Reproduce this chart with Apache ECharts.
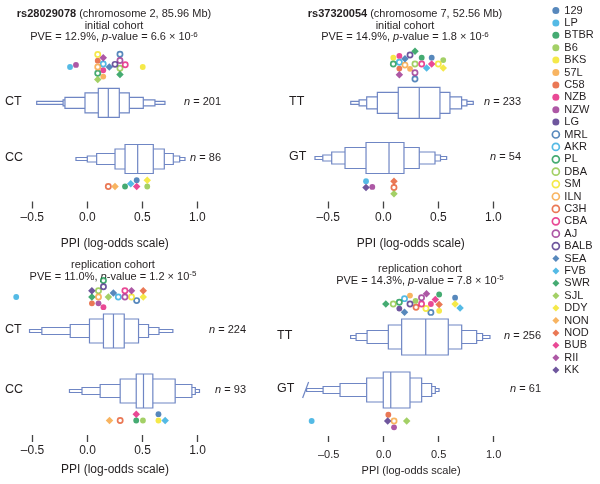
<!DOCTYPE html>
<html><head><meta charset="utf-8">
<script src="https://cdn.jsdelivr.net/npm/echarts@6/dist/echarts.min.js"></script>
<style>html,body{margin:0;padding:0;background:#fff}#c{width:600px;height:484px}</style>
</head><body><div id="c"></div>
<script>
// ---------------- DATA ----------------
const strains = ['129','LP','BTBR','B6','BKS','57L','C58','NZB','NZW','LG','MRL','AKR','PL','DBA','SM','ILN','C3H','CBA','AJ','BALB','SEA','FVB','SWR','SJL','DDY','NON','NOD','BUB','RII','KK'];
const colorCycle = ['#2d6aab','#29a9df','#17964f','#8cc440','#f2e41c','#f6a13a','#e5562b','#e41b7b','#992e8f','#4a2c85'];
const snpIds = ['rs28029078','rs37320054'];
const snpInfo = [' (chromosome 2, 85.96 Mb)',' (chromosome 7, 52.56 Mb)'];
const cohorts = ['initial cohort','initial cohort','replication cohort','replication cohort'];
const pveValues = ['12.9%','14.9%','11.0%','14.3%'];
const pMantissa = ['6.6','1.8','1.2','7.8'];
const pExponent = ['-6','-6','-5','-5'];
const genotypes = [['CT','CC'],['TT','GT'],['CT','CC'],['TT','GT']];
const groupN = [[201,86],[233,54],[224,93],[256,61]];
const xTicks = [-0.5,0,0.5,1.0];
const xTitle = 'PPI (log-odds scale)';

// letter values (inner -> outer) for each genotype box
const lvLower = [
  [[0.100,-0.021,-0.203,-0.220,-0.460],[0.343,0.252,0.085,0.000,-0.103]],
  [[0.136,-0.054,-0.151,-0.220,-0.296],[-0.157,-0.348,-0.469,-0.550,-0.621]],
  [[0.145,0.018,-0.157,-0.415,-0.527],[0.443,0.297,0.115,-0.050,-0.164]],
  [[0.164,0.043,-0.150,-0.250,-0.300],[-0.003,-0.154,-0.396,-0.550,-0.700]]
];
const lvUpper = [
  [[0.291,0.382,0.509,0.615,0.706],[0.600,0.700,0.782,0.840,0.888]],
  [[0.515,0.606,0.712,0.760,0.818],[0.188,0.327,0.470,0.520,0.576]],
  [[0.334,0.464,0.555,0.650,0.776],[0.594,0.797,0.949,0.980,1.018]],
  [[0.588,0.710,0.846,0.900,0.967],[0.240,0.346,0.437,0.470,0.504]]
];
const lvMedian = [[0.191,0.458],[0.327,0.052],[0.236,0.509],[0.383,0.065]];
const lowTailBroken = [[false,false],[false,false],[false,false],[false,true]];

// strain means per panel / genotype group: [strain, PPI]
const strainMeans = [
  [ // rs28029078 initial
    [['LP',-0.157],['NZW',-0.103],['ILN',0.095],['AKR',0.145],['C58',0.095],['PL',0.095],['NZB',0.145],['SM',0.095],['RII',0.145],['SJL',0.095],['57L',0.145],['SEA',0.200],['BALB',0.252],['DBA',0.297],['AJ',0.297],['CBA',0.345],['SWR',0.297],['MRL',0.297],['BKS',0.504]],
    [['C3H',0.191],['NON',0.252],['BTBR',0.343],['FVB',0.395],['BUB',0.449],['129',0.449],['B6',0.545],['DDY',0.545]]
  ],
  [ // rs37320054 initial
    [['AKR',0.146],['DBA',0.288],['C58',0.146],['AJ',0.288],['PL',0.091],['NZB',0.146],['ILN',0.197],['57L',0.243],['CBA',0.349],['BUB',0.440],['B6',0.545],['RII',0.146],['BALB',0.243],['SWR',0.288],['BTBR',0.349],['FVB',0.394],['129',0.440],['SM',0.500],['DDY',0.545],['BKS',0.091],['SEA',0.197],['MRL',0.288]],
    [['KK',-0.157],['LP',-0.157],['NZW',-0.100],['C3H',0.097],['NOD',0.097],['SJL',0.097]]
  ],
  [ // rs28029078 replication
    [['LP',-0.648],['SWR',0.040],['KK',0.040],['C58',0.040],['ILN',0.100],['DBA',0.100],['NZW',0.100],['BALB',0.145],['NZB',0.145],['PL',0.145],['SJL',0.190],['SEA',0.235],['AKR',0.280],['AJ',0.340],['CBA',0.340],['SM',0.400],['RII',0.400],['MRL',0.447],['DDY',0.507],['NOD',0.507]],
    [['NON',0.200],['C3H',0.297],['BTBR',0.443],['BUB',0.443],['B6',0.504],['BKS',0.645],['FVB',0.706],['129',0.645]]
  ],
  [ // rs37320054 replication
    [['SWR',0.020],['DBA',0.088],['PL',0.143],['LG',0.143],['AKR',0.190],['SEA',0.190],['BALB',0.240],['57L',0.240],['B6',0.290],['C3H',0.295],['CBA',0.345],['AJ',0.345],['SM',0.385],['RII',0.390],['NZB',0.430],['MRL',0.430],['BUB',0.470],['NOD',0.505],['BKS',0.505],['BTBR',0.505],['DDY',0.650],['129',0.650],['FVB',0.695]],
    [['LP',-0.654],['KK',0.037],['ILN',0.095],['C58',0.043],['NZW',0.095],['SJL',0.210]]
  ]
];

// ---------------- LAYOUT / STYLE ----------------
const ink = '#231f20';
const boxColor = '#6f86c4';
const P = [
  {zero:87.3, axisY:201.5, top:45, tx:114, ty:[14,25.7,37.3], rowY:[102.8,159], dotY:[67,186.5], h:[29,20,11,6,3], gx:5, nx:221, tick:7, lab:12, lm:10, nameGap:36},
  {zero:383.3, axisY:201.5, top:45, tx:405, ty:[14,25.7,37.3], rowY:[102.8,158], dotY:[64,187.5], h:[31,21,12,6,3], gx:289, nx:521, tick:7, lab:12, lm:10, nameGap:36},
  {zero:87.5, axisY:435, top:285, tx:113, ty:[265,276.5], rowY:[331,391], dotY:[297,420.5], h:[34,24,13,7,3], gx:5, nx:246, tick:7, lab:12, lm:10, nameGap:29},
  {zero:383.6, axisY:436, top:290, tx:420, ty:[269.3,280.7], rowY:[337,390], dotY:[304,421], h:[36,24,13,7,3], gx:277, nx:541, tick:6, lab:11, lm:13, nameGap:29}
];
const unit = 110;

function strainStyle(i){
  const c = colorCycle[i % 10];
  if (i < 10) return {symbol:'circle', size:5.8, itemStyle:{color:c}};
  if (i < 20) return {symbol:'circle', size:5.2, itemStyle:{color:'#fff', borderColor:c, borderWidth:1.7}};
  return {symbol:'diamond', size:7.5, itemStyle:{color:c}};
}

const chart = echarts.init(document.getElementById('c'), null, {renderer:'canvas'});

const grids = [], xAxes = [], yAxes = [];
P.forEach((p, k) => {
  grids.push({left: p.zero - 0.5*unit, width: 1.5*unit, top: p.top, height: p.axisY - p.top});
  xAxes.push({type:'value', gridIndex:k, min:-0.5, max:1.0, interval:0.5,
    axisLine:{show:false}, splitLine:{show:false},
    axisTick:{show:true, length:p.tick, lineStyle:{color:'#444', width:1.3}},
    axisLabel:{fontSize:p.lab, color:ink, margin:p.lm, fontFamily:'Liberation Sans, Arial',
      formatter: v => (xTicks.indexOf(v) >= 0 ? v.toFixed(1).replace('-', '\u2013') : '')},
    name: xTitle, nameLocation:'middle', nameGap: p.nameGap,
    nameTextStyle:{fontSize:p.lab, color:ink, fontFamily:'Liberation Sans, Arial'}});
  yAxes.push({type:'value', gridIndex:k, min:p.top, max:p.axisY, inverse:true, show:false});
});

chart.setOption({animation:false, grid:grids, xAxis:xAxes, yAxis:yAxes, series:[]});

function swarm(xs, d){
  const order = xs.map((x,i)=>i).sort((a,b)=>xs[a]-xs[b]);
  const placed = [], out = new Array(xs.length);
  order.forEach(i => {
    const x = xs[i];
    const cands = [0];
    placed.forEach(q => {
      const dx = Math.abs(q.x - x);
      if (dx < d) { const hh = Math.sqrt(d*d - dx*dx); cands.push(q.y + hh, q.y - hh); }
    });
    cands.sort((a,b)=>Math.abs(a)-Math.abs(b) || a-b);
    for (const c of cands) {
      if (placed.every(q => (q.x-x)*(q.x-x) + (q.y-c)*(q.y-c) >= d*d - 1e-6)) { out[i] = c; placed.push({x, y:c}); break; }
    }
  });
  return out;
}

const series = [];
P.forEach((p, k) => {
  series.push({
    type:'custom', xAxisIndex:k, yAxisIndex:k, clip:false, silent:true, z:2,
    data: [[0],[1]],
    renderItem: (params, api) => {
      const g = api.value(0);
      const lo = lvLower[k][g], hi = lvUpper[k][g];
      const cy = p.rowY[g];
      const ch = [];
      for (let l = lo.length - 1; l >= 0; l--) {
        const a = api.coord([lo[l], cy]), b = api.coord([hi[l], cy]);
        const hh = p.h[l];
        ch.push({type:'rect', shape:{x:a[0], y:cy - hh/2, width:b[0]-a[0], height:hh},
          style:{fill:'#fff', stroke:boxColor, lineWidth:1.2}});
      }
      const m = api.coord([lvMedian[k][g], cy]);
      ch.push({type:'line', shape:{x1:m[0], y1:cy - p.h[0]/2, x2:m[0], y2:cy + p.h[0]/2}, style:{stroke:boxColor, lineWidth:1.2}});
      if (lowTailBroken[k][g]) {
        const e = api.coord([lo[lo.length-1], cy]);
        ch.push({type:'line', shape:{x1:e[0]-4, y1:cy+8, x2:e[0]+2, y2:cy-8}, style:{stroke:boxColor, lineWidth:1.2}});
      }
      return {type:'group', children:ch};
    }
  });
});

P.forEach((p, k) => {
  const perStrain = {};
  strains.forEach(s => perStrain[s] = []);
  [0,1].forEach(g => {
    const list = strainMeans[k][g];
    const xs = list.map(r => chart.convertToPixel({gridIndex:k}, [r[1], p.top])[0]);
    const dy = swarm(xs, 6.3);
    list.forEach((r, i) => perStrain[r[0]].push([r[1], p.dotY[g] + dy[i]]));
  });
  strains.forEach((s, i) => {
    const st = strainStyle(i);
    series.push({type:'scatter', name:s, xAxisIndex:k, yAxisIndex:k, clip:false, silent:true, z:3,
      symbol:st.symbol, symbolSize:st.size, itemStyle:st.itemStyle, data:perStrain[s]});
  });
});

const graphics = [];
const font = (sz, extra) => (extra ? extra + ' ' : '') + sz + 'px "Liberation Sans", Arial, sans-serif';
P.forEach((p, k) => {
  const lines = [];
  if (k < 2) lines.push('{b|' + snpIds[k] + '}' + snpInfo[k]);
  lines.push(cohorts[k]);
  lines.push('PVE = ' + pveValues[k] + ', {i|p}-value = ' + pMantissa[k] + ' \u00d7 10{s|' + pExponent[k] + '}');
  lines.forEach((t, j) => {
    graphics.push({type:'text', x:p.tx, y:p.ty[j], style:{text:t, font:font(11), fill:ink, align:'center', verticalAlign:'middle',
      rich:{b:{fontWeight:'bold', fontSize:11, fill:ink}, i:{fontStyle:'italic', fontSize:11, fill:ink}, s:{fontSize:8, verticalAlign:'top', fill:ink, padding:[0,0,5,0]}}}});
  });
  [0,1].forEach(g => {
    graphics.push({type:'text', x:p.gx, y:p.rowY[g]-1, style:{text:genotypes[k][g], font:font(12.5), fill:ink, align:'left', verticalAlign:'middle'}});
    graphics.push({type:'text', x:p.nx, y:p.rowY[g]-1, style:{text:'{i|n} = ' + groupN[k][g], font:font(11), fill:ink, align:'right', verticalAlign:'middle',
      rich:{i:{fontStyle:'italic', fontSize:11, fill:ink}}}});
  });
});

chart.setOption({
  legend:{orient:'vertical', left:551.5, top:4.3, padding:0, itemWidth:7, itemHeight:7, itemGap:0, selectedMode:false,
    textStyle:{fontSize:11, color:ink, lineHeight:12.4, fontFamily:'Liberation Sans, Arial'},
    data: strains.map((s, i) => {
      const st = strainStyle(i);
      return {name:s, icon: st.symbol, itemStyle: st.itemStyle};
    })},
  series: series,
  graphic: graphics
});
</script></body></html>
